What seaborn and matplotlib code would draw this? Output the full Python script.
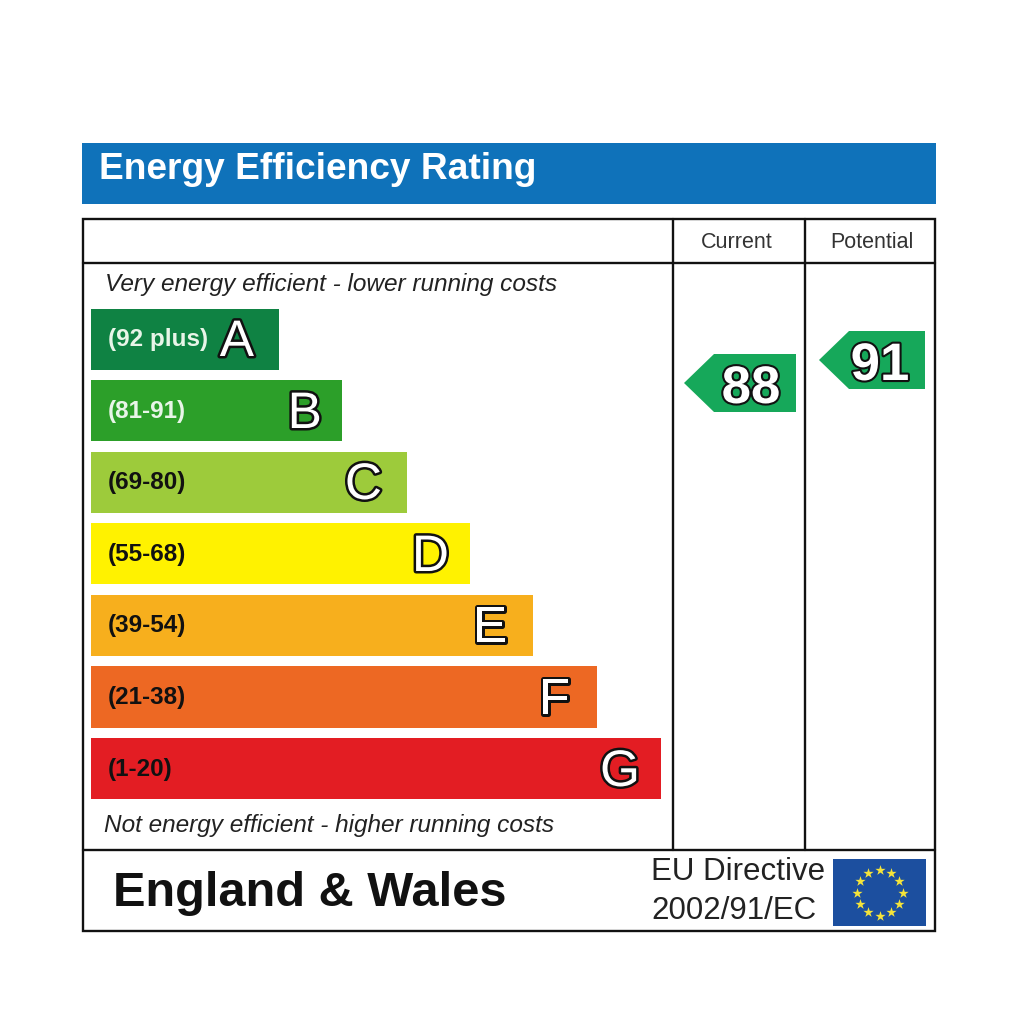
import matplotlib
matplotlib.use("Agg")
import matplotlib.pyplot as plt
import matplotlib.patheffects as pe
from matplotlib.patches import Rectangle, Polygon
import numpy as np
import pandas as pd
import seaborn as sns

sns.set_theme(style="white")
plt.rcParams['font.family'] = ['Liberation Sans', 'DejaVu Sans']

W, H = 1024, 1011
bands = ["(92 plus)", "(81-91)", "(69-80)", "(55-68)", "(39-54)", "(21-38)", "(1-20)"]
letters = ["A", "B", "C", "D", "E", "F", "G"]
band_width = [188, 251, 316, 379, 442, 506, 570]
colors = ["#0f8243", "#2c9f29", "#9dcb3b", "#fff200", "#f7af1d", "#ed6823", "#e31d23"]
label_colors = ["#e8f5e8", "#e8f5e8", "#111111", "#111111", "#111111", "#111111", "#111111"]
current_value = 88
potential_value = 91

fig = plt.figure(figsize=(W/100, H/100), dpi=100)

# bars on their own axes, beneath the overlay axes
top, bottom = 303.4, 804.4
bax = fig.add_axes([91/W, 1-bottom/H, 600/W, (bottom-top)/H], zorder=1)
df = pd.DataFrame({"band": bands, "w": band_width})
sns.barplot(data=df, y="band", x="w", hue="band", palette=colors, legend=False,
            width=0.855, saturation=1, linewidth=0, ax=bax, order=bands, dodge=False)
bax.set_xlim(0, 600)
bax.set_ylim(6.5, -0.5)
bax.axis("off")

ax = fig.add_axes([0, 0, 1, 1], zorder=2)
ax.set_xlim(0, W)
ax.set_ylim(H, 0)
ax.axis("off")
ax.patch.set_alpha(0)

# header
ax.add_patch(Rectangle((82, 143), 854, 61, fc="#0f72ba", ec="none"))
ax.text(99, 179, "Energy Efficiency Rating", color="white", fontsize=26.7, fontweight="bold", va="baseline")

# frame
lw = 1.7
ax.add_patch(Rectangle((83, 219), 852, 712, fc="none", ec="#111111", lw=lw))
ax.plot([83, 935], [263, 263], color="#111111", lw=lw)
ax.plot([83, 935], [850, 850], color="#111111", lw=lw)
ax.plot([673, 673], [219, 850], color="#111111", lw=lw)
ax.plot([805, 805], [219, 850], color="#111111", lw=lw)

ax.text(737, 248, "Current", ha="center", va="baseline", fontsize=15.5, color="#333333")
ax.text(872, 248, "Potential", ha="center", va="baseline", fontsize=15.5, color="#333333")
ax.text(105, 291, "Very energy efficient - lower running costs", fontsize=17.55, style="italic", va="baseline", color="#222222")
ax.text(104, 832, "Not energy efficient - higher running costs", fontsize=17.55, style="italic", va="baseline", color="#222222")

outline = [pe.withStroke(linewidth=3.6, foreground="#111111")]
ys = [339, 411, 482, 554, 625, 697, 769]
letter_right = [255, 323, 383, 450, 508, 571, 641]
for y, b, l, lc, r in zip(ys, bands, letters, label_colors, letter_right):
    ax.text(108, y + 7, b, color=lc, fontsize=17.5, fontweight="bold", va="baseline")
    ax.text(r - 1, y + 17, l, color="white", fontsize=37, ha="right", va="baseline", path_effects=outline)

def arrow(x0, x1, y0, y1, tip, val, tx):
    ax.add_patch(Polygon([(x1, y0), (tip, y0), (x0, (y0+y1)/2), (tip, y1), (x1, y1)], fc="#16a85a", ec="none"))
    ax.text(tx, (y0+y1)/2 + 20, str(val), color="white", fontsize=38, fontweight="bold", ha="center", va="baseline",
            path_effects=[pe.withStroke(linewidth=3.0, foreground="#111111")])

arrow(684, 796, 354, 412, 714, current_value, 751)
arrow(819, 925, 331, 389, 849, potential_value, 880)

ax.text(113, 906, "England & Wales", fontsize=35.1, fontweight="bold", va="baseline", color="#111111")
ax.text(651, 880, "EU Directive", fontsize=22.5, va="baseline", color="#222222")
ax.text(651, 919, "2002/91/EC", fontsize=22.5, va="baseline", color="#222222")

# EU flag
ax.add_patch(Rectangle((833, 859), 93, 67, fc="#1c4f9f", ec="none"))
angles = np.deg2rad(np.arange(0, 360, 30))
ax.scatter(879.5 + 23*np.cos(angles), 892.5 + 23*np.sin(angles), marker="*", s=60, color="#f5e43a", linewidths=0, zorder=5)

fig.savefig("out.png", dpi=100, facecolor="white")
